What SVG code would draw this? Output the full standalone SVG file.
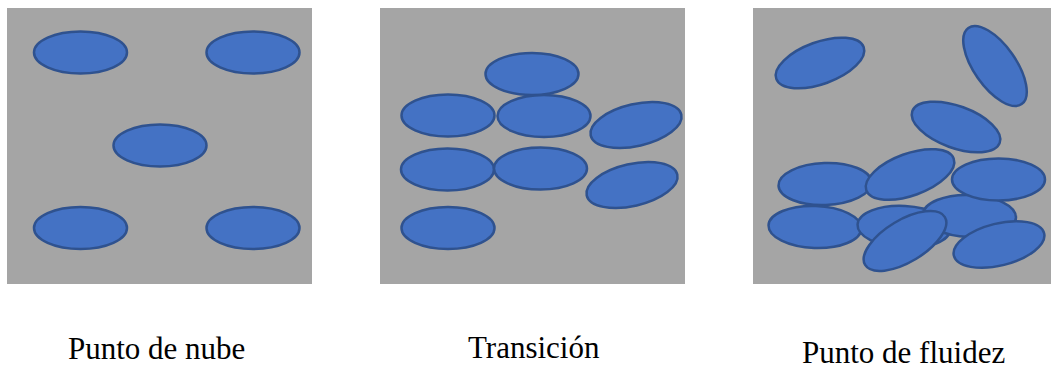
<svg xmlns="http://www.w3.org/2000/svg" width="1051" height="372" viewBox="0 0 1051 372">
  <style>
    .panel { fill: #A5A5A5; }
    .p { fill: #4472C4; stroke: #2F528F; stroke-width: 2.5; }
    .label { font-size: 31px; fill: #000000; }
  </style>
  <defs>
    <ellipse id="e" cx="0" cy="0" rx="46.5" ry="21" class="p"/>
  </defs>
  <rect width="1051" height="372" fill="#FFFFFF"/>

  <!-- Cloud point: few particles, widely spaced -->
  <g id="panel-cloud">
    <rect class="panel" x="7" y="8" width="305" height="276"/>
    <use href="#e" transform="translate(80.5,52.5)"/>
    <use href="#e" transform="translate(253,52.5)"/>
    <use href="#e" transform="translate(160,145.5)"/>
    <use href="#e" transform="translate(80.5,228)"/>
    <use href="#e" transform="translate(253,228)"/>
  </g>

  <!-- Transition: particles gathering -->
  <g id="panel-transition">
    <rect class="panel" x="380" y="8" width="305" height="276"/>
    <use href="#e" transform="translate(532,74)"/>
    <use href="#e" transform="translate(448,115.5)"/>
    <use href="#e" transform="translate(544,116)"/>
    <use href="#e" transform="translate(636,125) rotate(-13)"/>
    <use href="#e" transform="translate(447.5,169.5)"/>
    <use href="#e" transform="translate(540.5,168.5)"/>
    <use href="#e" transform="translate(632,185) rotate(-13)"/>
    <use href="#e" transform="translate(448,228)"/>
  </g>

  <!-- Pour point: particles piled up -->
  <g id="panel-pour">
    <rect class="panel" x="753" y="8" width="298" height="276"/>
    <use href="#e" transform="translate(820,63) rotate(-20)"/>
    <use href="#e" transform="translate(995,66) rotate(55)"/>
    <use href="#e" transform="translate(956,127) rotate(20)"/>
    <use href="#e" transform="translate(825,184) rotate(-2)"/>
    <use href="#e" transform="translate(910,174.5) rotate(-20)"/>
    <use href="#e" transform="translate(815,227) rotate(2)"/>
    <use href="#e" transform="translate(904,227) rotate(3)"/>
    <use href="#e" transform="translate(969.5,216) rotate(2)"/>
    <use href="#e" transform="translate(998.5,179.5)"/>
    <use href="#e" transform="translate(905,241) rotate(-31)"/>
    <use href="#e" transform="translate(999,244.5) rotate(-14)"/>
  </g>

  <g id="labels" font-family="'Liberation Serif', 'DejaVu Serif', serif">
    <text class="label" x="68" y="359">Punto de nube</text>
    <text class="label" x="468" y="358">Transición</text>
    <text class="label" x="802" y="363">Punto de fluidez</text>
  </g>
</svg>
